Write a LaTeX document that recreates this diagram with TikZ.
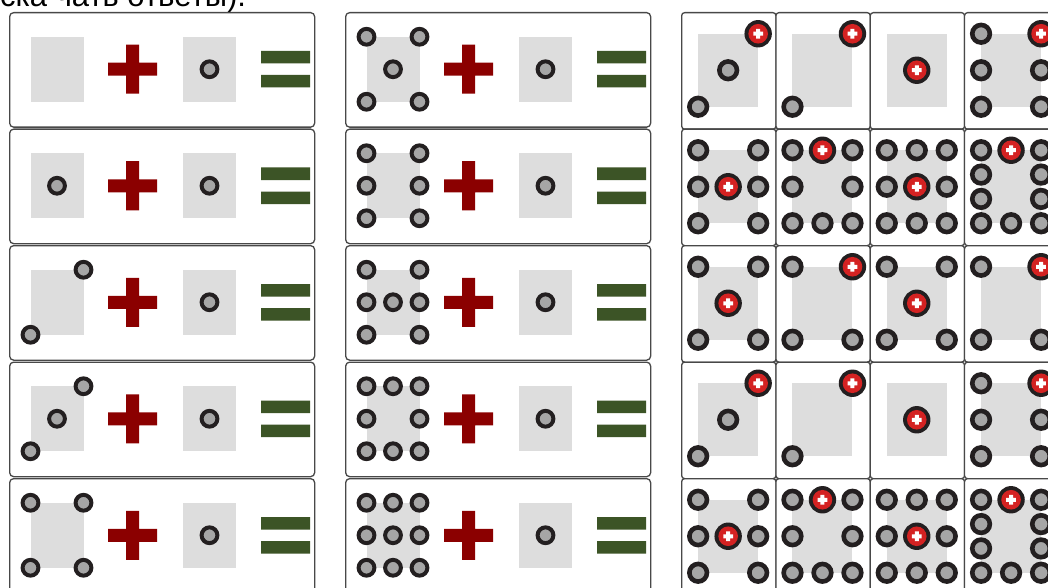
\documentclass[tikz,border=0pt]{standalone}
\usepackage{fontspec}
\setmainfont{Liberation Sans}
\definecolor{cardline}{RGB}{72,72,72}
\definecolor{tilegray}{RGB}{221,221,221}
\definecolor{pipring}{RGB}{35,31,32}
\definecolor{pipfill}{RGB}{166,166,166}
\definecolor{pipred}{RGB}{212,34,34}
\definecolor{plusred}{RGB}{139,0,0}
\definecolor{eqgreen}{RGB}{60,84,38}
\tikzset{
  cardbox/.style={draw=cardline, line width=1.3pt, rounded corners=4pt, fill=white, inner sep=0pt, anchor=north west},
  tilebox/.style={fill=tilegray, inner sep=0pt},
  greypip/.style={circle, draw=pipring, line width=4pt, fill=pipfill, minimum size=15.8pt, inner sep=0pt},
  bigpip/.style={greypip, line width=4.6pt, minimum size=17.6pt},
  redpip/.style={circle, fill=pipring, minimum size=27.4pt, inner sep=0pt,
    path picture={
      \fill[pipred] (path picture bounding box.center) circle[radius=9.8pt];
      \fill[white, shift={(path picture bounding box.center)}] (-4.9pt,-2pt) rectangle (4.9pt,2pt) (-2pt,-4.9pt) rectangle (2pt,4.9pt);
    }},
  plusbar/.style={fill=plusred},
  eqbar/.style={fill=eqgreen},
  topline/.style={font=\fontsize{31}{36}\selectfont, inner sep=0pt, anchor=base west}
}

\begin{document}
\begin{tikzpicture}[x=1pt, y=-1pt]
  \useasboundingbox (0,0) rectangle (1048,588);
  \node[topline] (note) at (0,6.5) {ска чать ответы).};
  % sum cards, left and middle columns
  \foreach \c in {0,1} {
    \foreach \r in {0,...,4} {
      \pgfmathsetmacro{\cx}{9+336*\c}
      \pgfmathsetmacro{\cy}{12+116.5*\r+57.25}
      \node[cardbox, minimum width=305pt, minimum height=114.5pt] (sum-\c-\r) at (\cx,\cy-57.25) {};
      \node[tilebox, minimum width=53pt, minimum height=65pt] (lhs-\c-\r) at (\cx+48,\cy) {};
      \node[tilebox, minimum width=53pt, minimum height=65pt] (rhs-\c-\r) at (\cx+200.5,\cy) {};
      \node[greypip] (one-\c-\r) at (rhs-\c-\r) {};
      \fill[plusbar] (\cx+99,\cy-6.5) rectangle ++(49,13) (\cx+117,\cy-24.5) rectangle ++(13,49);
      \fill[eqbar] (\cx+252,\cy-18.25) rectangle ++(49,12.5) (\cx+252,\cy+5.75) rectangle ++(49,12.5);
    }
  }
  % pips on the left tiles
  \foreach \c/\r/\pips in {0/1/{1/1}, 0/2/{2/0,0/2}, 0/3/{2/0,1/1,0/2}, 0/4/{0/0,2/0,0/2,2/2},
      1/0/{0/0,2/0,1/1,0/2,2/2}, 1/1/{0/0,2/0,0/1,2/1,0/2,2/2}, 1/2/{0/0,2/0,0/1,1/1,2/1,0/2,2/2},
      1/3/{0/0,1/0,2/0,0/1,2/1,0/2,1/2,2/2}, 1/4/{0/0,1/0,2/0,0/1,1/1,2/1,0/2,1/2,2/2}} {
    \pgfmathsetmacro{\cx}{9+336*\c}
    \pgfmathsetmacro{\cy}{12+116.5*\r}
    \foreach \i/\j in \pips
      \node[greypip] (pip-\c-\r-\i-\j) at (\cx+21.5+26.5*\i, \cy+24.75+32.5*\j) {};
  }
  % answer faces, right column
  \foreach \r/\k/\pips in {
      0/0/{2/0/redpip,1/3/bigpip,0/6/bigpip},
      0/1/{2/0/redpip,0/6/bigpip},
      0/2/{1/3/redpip},
      0/3/{0/0/bigpip,2/0/redpip,0/3/bigpip,2/3/bigpip,0/6/bigpip,2/6/bigpip},
      1/0/{0/0/bigpip,2/0/bigpip,0/3/bigpip,1/3/redpip,2/3/bigpip,0/6/bigpip,2/6/bigpip},
      1/1/{0/0/bigpip,1/0/redpip,2/0/bigpip,0/3/bigpip,2/3/bigpip,0/6/bigpip,1/6/bigpip,2/6/bigpip},
      1/2/{0/0/bigpip,1/0/bigpip,2/0/bigpip,0/3/bigpip,1/3/redpip,2/3/bigpip,0/6/bigpip,1/6/bigpip,2/6/bigpip},
      1/3/{0/0/bigpip,1/0/redpip,2/0/bigpip,0/2/bigpip,2/2/bigpip,0/4/bigpip,2/4/bigpip,0/6/bigpip,1/6/bigpip,2/6/bigpip},
      2/0/{0/0/bigpip,2/0/bigpip,1/3/redpip,0/6/bigpip,2/6/bigpip},
      2/1/{0/0/bigpip,2/0/redpip,0/6/bigpip,2/6/bigpip},
      2/2/{0/0/bigpip,2/0/bigpip,1/3/redpip,0/6/bigpip,2/6/bigpip},
      2/3/{0/0/bigpip,2/0/redpip,0/6/bigpip,2/6/bigpip},
      3/0/{2/0/redpip,1/3/bigpip,0/6/bigpip},
      3/1/{2/0/redpip,0/6/bigpip},
      3/2/{1/3/redpip},
      3/3/{0/0/bigpip,2/0/redpip,0/3/bigpip,2/3/bigpip,0/6/bigpip,2/6/bigpip},
      4/0/{0/0/bigpip,2/0/bigpip,0/3/bigpip,1/3/redpip,2/3/bigpip,0/6/bigpip,2/6/bigpip},
      4/1/{0/0/bigpip,1/0/redpip,2/0/bigpip,0/3/bigpip,2/3/bigpip,0/6/bigpip,1/6/bigpip,2/6/bigpip},
      4/2/{0/0/bigpip,1/0/bigpip,2/0/bigpip,0/3/bigpip,1/3/redpip,2/3/bigpip,0/6/bigpip,1/6/bigpip,2/6/bigpip},
      4/3/{0/0/bigpip,1/0/redpip,2/0/bigpip,0/2/bigpip,2/2/bigpip,0/4/bigpip,2/4/bigpip,0/6/bigpip,1/6/bigpip,2/6/bigpip}} {
    \pgfmathsetmacro{\cx}{681+94.3*\k}
    \pgfmathsetmacro{\cy}{12+116.5*\r}
    \node[cardbox, rounded corners=3pt, minimum width=94.3pt, minimum height=116.5pt] (die-\r-\k) at (\cx,\cy) {};
    \node[tilebox, minimum width=60pt, minimum height=73pt] (face-\r-\k) at (\cx+47.15,\cy+58.25) {};
    \foreach \i/\j/\kind in \pips
      \node[\kind] (dot-\r-\k-\i-\j) at (\cx+17.15+30*\i, \cy+21.75+12.1667*\j) {};
  }
\end{tikzpicture}
\end{document}
